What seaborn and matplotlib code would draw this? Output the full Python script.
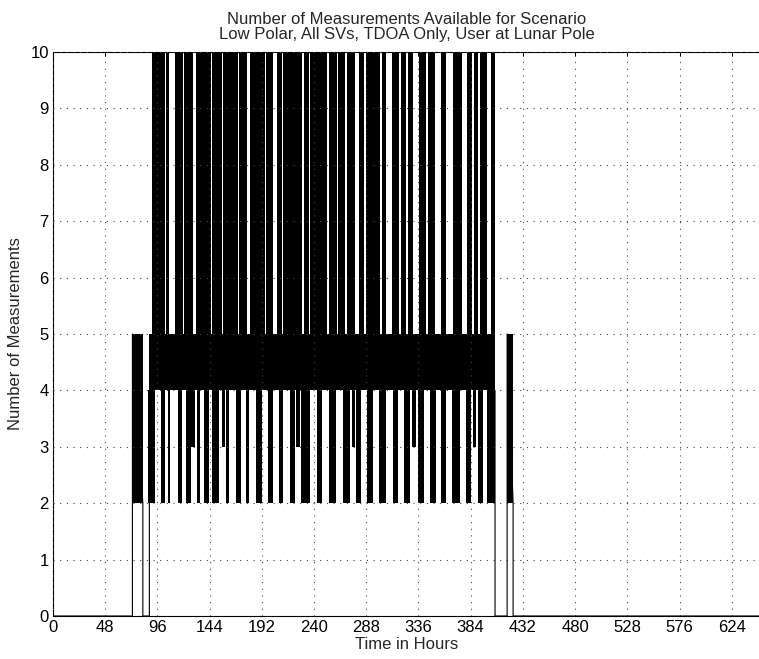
import matplotlib
matplotlib.use("Agg")
import matplotlib.pyplot as plt
import seaborn as sns

# Sparse parts of the measurement-count trace (hours, count)
trace_hours = [0, 73.0, 73.0, 82.6, 82.6, 88.6, 88.6]
trace_counts = [0, 0, 5, 2, 0, 0, 4]
tail_hours = [406.4, 406.4, 417.5, 417.5, 423.0, 423.0, 650]
tail_counts = [4, 0, 0, 5, 2, 0, 0]

# Periods of rapid switching, grouped by the count range they span (hours)
band_2_5 = [(73.0, 82.6), (417.5, 423.0)]
band_4_5 = [(88.6, 406.4)]
band_5_10 = [
    (91.3, 103.0), (103.9, 106.4), (112.2, 119.8), (120.7, 128.7), (131.5, 136.7),
    (137.3, 145.3), (146.5, 155.1), (156.6, 170.4), (171.3, 178.1), (181.1, 194.9),
    (195.9, 202.6), (205.7, 210.3), (211.2, 219.5), (220.0, 228.7), (230.8, 235.4),
    (236.3, 251.7), (254.1, 260.9), (262.4, 268.5), (270.0, 277.7), (281.7, 286.3),
    (287.8, 300.7), (302.2, 306.2), (311.4, 318.1), (319.7, 324.6), (326.7, 331.3),
    (336.5, 343.0), (345.1, 351.3), (356.5, 361.4), (367.5, 375.8), (380.4, 385.0),
    (387.1, 391.1), (392.6, 399.3), (402.5, 406.4),
]
band_2_4 = [
    (87.6, 93.8), (99.3, 103.0), (105.8, 107.6), (114.9, 118.6), (122.3, 126.9),
    (132.4, 135.2), (138.9, 143.5), (146.2, 152.6), (159.1, 161.8), (168.3, 172.9),
    (177.5, 180.2), (186.6, 192.2), (197.7, 202.3), (207.8, 211.5), (217.9, 222.5),
    (228.0, 236.3), (242.7, 247.3), (253.7, 260.2), (266.6, 273.0), (278.6, 283.2),
    (288.7, 294.2), (299.8, 306.2), (312.6, 317.2), (322.7, 328.3), (335.6, 341.1),
    (346.7, 352.2), (356.8, 361.4), (367.0, 374.2), (379.7, 384.3), (390.8, 395.4),
    (399.1, 406.4),
]
band_3_4 = [
    (126.9, 130.6), (155.4, 158.2), (223.4, 227.1), (274.9, 277.7), (330.1, 333.8),
    (386.2, 388.9),
]

x_ticks = list(range(0, 649, 48))
y_ticks = list(range(0, 11))

sns.set_theme(style="white")
plt.rcParams["font.family"] = ["Liberation Sans", "DejaVu Sans"]

fig = plt.figure(figsize=(7.59, 6.59), dpi=100)
ax = fig.add_axes([53 / 759, 43 / 659, 707 / 759, 564 / 659])

def draw_band(ax, spans, lo, hi):
    for start, end in spans:
        ax.bar(start, hi - lo, width=end - start, bottom=lo, align="edge",
               color="black", linewidth=0, zorder=2)

draw_band(ax, band_2_5, 2, 5)
draw_band(ax, band_4_5, 4, 5)
draw_band(ax, band_5_10, 5, 10)
draw_band(ax, band_2_4, 2, 4)
draw_band(ax, band_3_4, 3, 4)

for part_h, part_c in ((trace_hours, trace_counts), (tail_hours, tail_counts)):
    sns.lineplot(x=part_h, y=part_c, sort=False, estimator=None, color="black",
                 linewidth=0.8, ax=ax, zorder=3)

ax.set_xlim(0, 650)
ax.set_ylim(0, 10)
ax.set_xticks(x_ticks)
ax.set_yticks(y_ticks)
ax.tick_params(direction="in", length=3, width=0.7, top=True, right=False,
               labelsize=12, colors="black", pad=3)
ax.grid(True, color="#444444", linestyle=(0, (1, 5)), linewidth=0.8, zorder=4)
ax.set_axisbelow(False)
for side in ("left", "top", "bottom"):
    ax.spines[side].set_color("black")
    ax.spines[side].set_linewidth(0.8)
ax.spines["right"].set_visible(False)

ax.set_xlabel("Time in Hours", fontsize=12, labelpad=1)
ax.set_ylabel("Number of Measurements", fontsize=12, labelpad=5)
ax.set_title("Number of Measurements Available for Scenario\n"
             "Low Polar, All SVs, TDOA Only, User at Lunar Pole",
             fontsize=12, pad=9, linespacing=1.05)

fig.savefig("out.png", dpi=100)
